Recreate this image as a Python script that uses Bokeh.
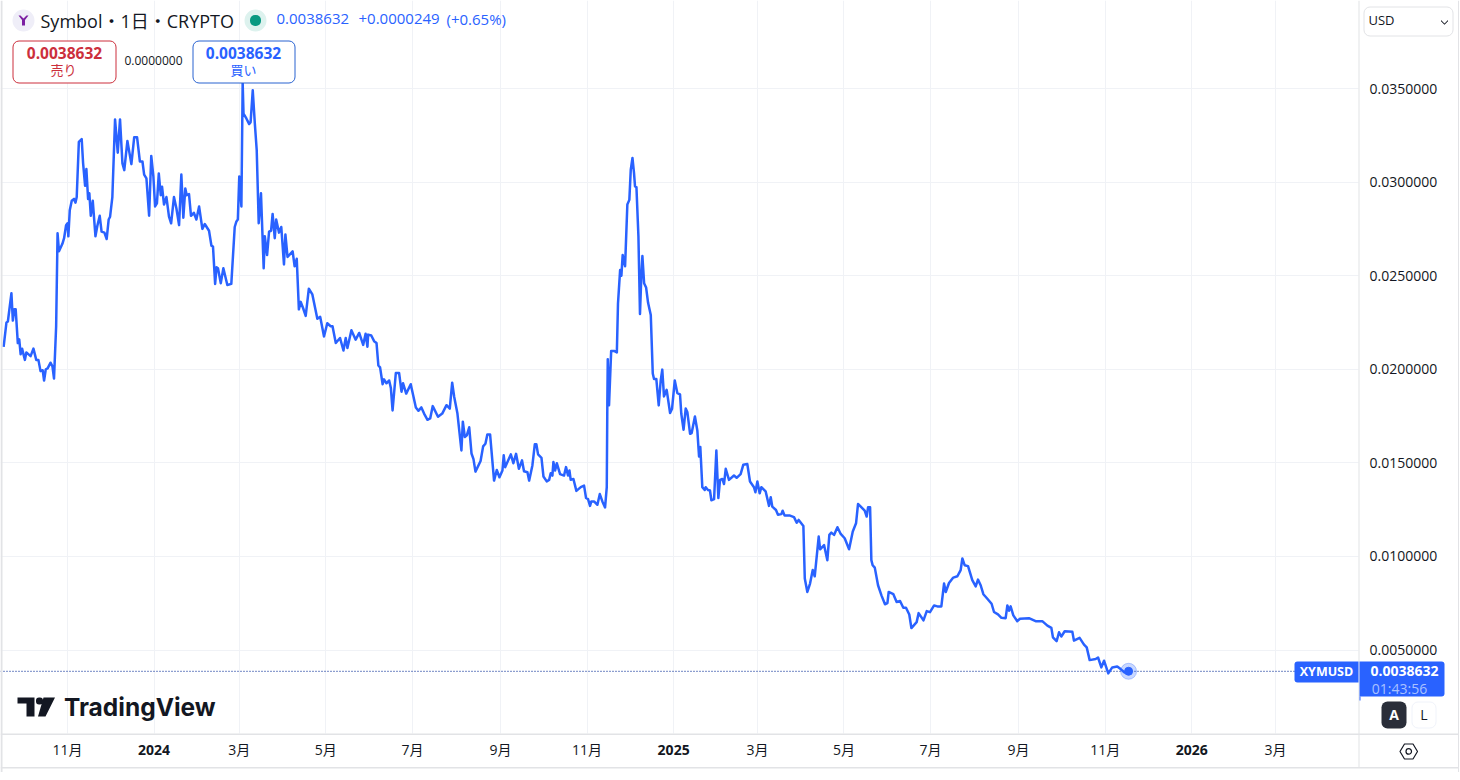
from datetime import date, timedelta
from bokeh.embed import file_html
from bokeh.resources import INLINE
from bokeh.plotting import figure
from bokeh.models import (Label, BoxAnnotation, PolyAnnotation, FixedTicker, Range1d,
                          LinearAxis, DatetimeAxis, Span, Grid, NumeralTickFormatter)

START_DATE = date(2023, 9, 15)

# Day number after START_DATE
day_numbers = [
 2,4,5,7.5,8.5,9.5,10.5,12,13,14,15,17,18,21,23,25,26.5,28,29.5,30.5,31.7,33,35,36.4,37.5,39,40,41,43.4,44.6,46,47,47.6,48.6,50,51.6,52.6,53.5,55,57,58,59.4,60.3,61.5,62.4,63.4,64.8,66.7,68,69.7,71,73,74.6,76,77,78.6,80.5,82.4,84,85.7,87,89.2,92,94,96,98,99.8,101,102.6,104.5,106,107.5,108.7,110,111.3,112.7,113.6,115,116.7,118.5,120,122,123.7,125.6,127.2,128.6,130,131,132.6,134,136,137.8,139.7,142,143.7,146.7,148.4,149.5,151,152,153,155,156.8,159.6,162.4,164.8,166,167,168,169.5,170.4,171,173,175,176,177.5,179,180.3,181.7,183.3,185.2,186,187.6,189,190.4,191.5,193,194,196,197.6,199.5,200.5,202,205.6,207,208.5,210,211.3,213,214.8,217,219.5,223,225,227.7,230,232.4,
 233.7,236,239,241.4,243,244.2,247,250,252.5,255.3,257,258.3,258.8,261,263,264.7,266,267.2,269,270,271.7,273.6,274.8,276,278.3,280.6,282.3,283.4,285.6,288.8,292.4,294.2,296.3,298.2,300.6,302.5,304.3,308,311,314,316.3,318,319.4,321.7,324.5,325.5,326.9,328.3,330,331.6,333,334.4,338,339.8,341.4,342.8,344.7,347.5,349.4,351.3,353.4,354.3,355.3,359.3,361.1,363,365,367.2,368.6,371,372.2,374.5,376.2,377.3,378.5,380.9,382.3,384.6,386.3,387.4,388.6,389.3,390.5,391.7,394,396.8,398.2,399.6,400.6,401.5,403.4,405.5,408.6,410.9,412.3,413.7,415.1,416,417.9,420.3,422,423.8,425.7,426.9,427.3,427.6,428.5,
 430,432,434,434.8,436.3,437.2,438.1,439.8,441.4,442.8,443.8,445,446.1,446.8,447.8,449.2,450.3,451.3,452,453.2,454.6,456,457.9,459.3,460.2,461.8,463.5,464.9,466,467.2,469.1,471.5,472.9,474.8,476.6,478.5,479.4,481,482.5,483.7,485.6,486.7,489,490.7,491.9,492.8,494.2,495.9,496.6,498.2,499.6,500.6,502.5,504.1,505.5,506.7,508.3,509.5,510.7,513,516.5,518.4,521.2,523.1,525.9,527.8,530.6,531.6,533,534.6,535.8,538.8,541.2,542.4,543.5,546.1,547.5,549.9,550.8,552.2,556,
 558.8,560.7,562.1,565.4,566.4,568.2,570.1,572,573.4,576.2,577.2,580,582.3,583.7,585.1,587,589.4,591.7,594.5,597.6,600.2,602.5,603.9,605.3,608.6,610,611,612.4,613.3,614.2,615.7,618,620.4,622.9,624.6,625.5,628.8,631.1,633.5,635.8,637.7,640,641.5,645.2,646.6,650,652.3,654.6,657.5,659.8,662.6,664.5,665.7,668,671,673.9,676.2,677.4,679,681.4,684.4,686.8,688.4,690.3,692.2,695,698,699.7,702.5,704.9,707.9,709.1,710.3,711.4,713.3,716.1,718,724.3,729,733.7,737.3,740.1,741.2,743.8,745.5,747.1,749.5,754.9,756,760,763.1,765,767.1,771.3,773,775.3,777.2,780.2,783,786.5,788.9,791.7,794.5]

# Price in units of 0.0001 USD
price_e4 = [
 212,225,225.5,240.6,226,232,232,214,216,208,211,205,209,207,211,205,205,199,199.5,194,200,200.5,203.5,201.5,195,223,272.6,263,267,270,277,278,271,285,290,291,289,292,321.5,323,310,298,307,291,294,282,290,271,276.5,282,273.5,273,269.6,280,281.5,292,333.5,315.7,333.5,310,306.4,322,309.6,324,324,311,311,304,302,282,314,303,287,288.6,304.6,293,297.5,288,292,281.5,278,292,286,277,304,281,296.6,293,293.6,282,283.6,280,287,275,277.6,274,266,265.5,245.6,254.5,254,246,254,245,245.6,276,279,280,303,287,353,336.6,334,331,332,349,331,317,278,294,254,271,261,273.5,274,283,270,280,273,276,256,272,260,263,255,259,232,236,232.6,228.5,243,240,227,228,217.5,224.6,223,
 223,214,216.7,210,216.7,211.3,220.8,215.8,219.4,213,219,212,218.5,218,215,214,202,201,192,194.6,192.5,194,190,178,198,198,188,192.5,187,192,179.6,177.8,179.6,176.3,173,173.7,180.3,174.6,176.3,180.8,179,192.8,185.3,176.3,156.6,172,163.8,164.7,169,155,152,145.3,151,158.8,160.2,165.2,165.2,140.5,146.2,142.3,145.9,154,147.7,154.5,149.8,154.8,146.8,151.3,145.5,145,140.5,148.6,159.9,159.9,154.5,152.7,142.7,140.1,140.9,144.4,143.2,150.4,145.9,149.8,144,143.2,147.7,143.2,145.9,140.9,141.4,135,137,137.8,131.2,130.6,127,129.4,129.4,127.6,133.3,129.4,126.2,137,181.7,205.4,180.8,
 209.8,209.8,209,235,253,250,261,255,288,290.5,306.6,312.9,304.8,297.7,297.3,271,229.5,251,260.5,246,243.7,235.5,229,197.7,194.8,194.8,180.7,194,199.8,185.5,189,176.6,178.9,194,187.3,186.6,176.2,167.7,179,177,165.5,165.9,174.8,167.3,153.4,158.4,137,135.5,137,135.5,135.2,130,130.6,156.6,131.2,140.9,141.4,138.7,146.8,140.9,143.2,142,144,149,149.4,140,137,134.3,140,133.7,137,134.8,127,131.6,126.6,124.8,122.3,122.6,124.4,121.8,121.8,
 121,118,119.5,116.3,88.2,81,85.5,92.7,89.4,110.6,103.8,106,98,111.5,112.7,111.5,115.6,112,109.7,103.8,113.3,117.7,128,127,124.5,121.3,126.3,126.3,98,95.3,94,84.6,79.2,74.4,75,81,79.8,75.6,76.2,72.6,72.6,69,61.7,64.9,69.7,65.8,70.8,70.2,73.8,73.3,73.3,85.5,81,85.8,88.7,89.4,92.7,98.9,95.3,94.8,87.3,84,87.6,84.6,79.8,77.4,74.7,70.3,69,67.2,67,73.8,71,73.3,68.5,65.4,66.7,67,65.4,65.4,63,61.8,56.8,54.7,59.5,57.2,60,59.7,55,56.5,52.9,51.4,44.6,45.2,46,40.7,44.3,37.5,40.7,41.2,39.8,38,38.632]

price_ticks = [0.005, 0.010, 0.015, 0.020, 0.025, 0.030, 0.035]
month_ticks = ["2023-11-01","2024-01-01","2024-03-01","2024-05-01","2024-07-01","2024-09-01","2024-11-01",
               "2025-01-01","2025-03-01","2025-05-01","2025-07-01","2025-09-01","2025-11-01","2026-01-01","2026-03-01"]
month_labels = ["11月","2024","3月","5月","7月","9月","11月","2025","3月","5月","7月","9月","11月","2026","3月"]
last_price = 0.0038632

BLUE = "#2962FF"; INK = "#131722"; RED = "#CC2F3C"; GRID = "#F0F2F6"; EDGE = "#E2E3E6"
FONT = "'Open Sans','Noto Sans CJK JP',sans-serif"
JP = "'Noto Sans CJK JP',sans-serif"

def to_ms(d):
    return (d - date(1970, 1, 1)).total_seconds() * 1000

def parse(s):
    y, m, d = s.split("-")
    return date(int(y), int(m), int(d))

assert len(day_numbers) == len(price_e4), (len(day_numbers), len(price_e4))
xs = [to_ms(START_DATE) + n * 86400000 for n in day_numbers]
ys = [v / 10000 for v in price_e4]
tick_ms = [to_ms(parse(s)) for s in month_ticks]

W, H = 1459, 772
RIGHT_EDGE, BOTTOM_EDGE = 1358, 733
PX_PER_DAY = (1275 - 67) / 851.0
MS_PER_PX = 86400000 / PX_PER_DAY
x_left = tick_ms[0] - 67 * MS_PER_PX
x_right = tick_ms[0] + (W - 67) * MS_PER_PX
x_edge = tick_ms[0] + (RIGHT_EDGE - 67) * MS_PER_PX
UNIT_PER_PX = 0.03 / (649.5 - 88)
y_top = 0.035 + 88 * UNIT_PER_PX
y_bottom = 0.035 - (H - 88) * UNIT_PER_PX
y_edge = 0.035 - (BOTTOM_EDGE - 88) * UNIT_PER_PX

p = figure(width=W, height=H, output_backend="svg", toolbar_location=None,
           x_range=Range1d(x_left, x_right), y_range=Range1d(y_bottom, y_top),
           x_axis_type=None, y_axis_type=None, margin=0,
           min_border=0, outline_line_color=None,
           background_fill_color="white", border_fill_color="white")

# axes, fixed on the pane edges
yax = LinearAxis(ticker=FixedTicker(ticks=price_ticks), formatter=NumeralTickFormatter(format="0.0000000"),
                 fixed_location=x_edge, axis_line_color=None, major_tick_line_color=None,
                 minor_tick_line_color=None, major_tick_out=0, major_tick_in=0,
                 major_label_text_font=FONT, major_label_text_font_size="14px",
                 major_label_text_color=INK, major_label_standoff=11)
p.add_layout(yax, "right")
month_over = {t: ("" if l.startswith("20") else l) for t, l in zip(tick_ms, month_labels)}
xax = DatetimeAxis(ticker=FixedTicker(ticks=tick_ms), major_label_overrides=month_over,
                   fixed_location=y_edge, axis_line_color=None, major_tick_line_color=None,
                   minor_tick_line_color=None, major_tick_out=0, major_tick_in=0,
                   major_label_text_font=FONT, major_label_text_font_size="14px",
                   major_label_text_color=INK, major_label_standoff=6)
p.add_layout(xax, "below")
p.add_layout(Grid(dimension=0, ticker=FixedTicker(ticks=tick_ms), grid_line_color=GRID, grid_line_width=1))
p.add_layout(Grid(dimension=1, ticker=FixedTicker(ticks=price_ticks), grid_line_color=GRID, grid_line_width=1))
p.add_layout(Span(location=last_price, dimension="width", line_color="#1C3FA0", line_width=1.2,
                  line_dash=[1, 2], level="underlay"))

# series
p.line(xs, ys, line_color=BLUE, line_width=2.5, line_join="round")
p.scatter([xs[-1]], [ys[-1]], size=16, fill_color=BLUE, fill_alpha=0.25, line_color=BLUE, line_alpha=0.3)
p.scatter([xs[-1]], [ys[-1]], size=8, fill_color=BLUE, line_color=BLUE)

def box(l, r, t, b, fill="white", line=None, radius=0, lw=1, alpha=1.0, level="annotation"):
    p.add_layout(BoxAnnotation(left=l, right=r, top=t, bottom=b, left_units="canvas", right_units="canvas",
                               top_units="canvas", bottom_units="canvas", fill_color=fill, fill_alpha=alpha,
                               line_color=line, line_width=lw, line_alpha=1.0 if line else 0.0,
                               border_radius=radius, level=level))

def text(x, y, s, size=13, color=INK, align="left", style="normal", font=FONT, bl="middle"):
    p.add_layout(Label(x=x, y=y, x_units="canvas", y_units="canvas", text=s, text_font=font,
                       text_font_size=f"{size}px", text_color=color, text_align=align,
                       text_baseline=bl, text_font_style=style, level="annotation"))

def poly(px, py, fill=INK, line=None, lw=1.0, alpha=1.0):
    p.add_layout(PolyAnnotation(xs=px, ys=py, xs_units="canvas", ys_units="canvas", fill_color=fill,
                                fill_alpha=alpha, line_color=line, line_width=lw,
                                line_alpha=1.0 if line else 0.0, level="annotation"))

# white panes under the axis texts, hiding grid lines there
box(RIGHT_EDGE, W, 0, H, level="underlay")
box(0, W, BOTTOM_EDGE, H, level="underlay")

# frame lines
box(0, 2, 0, H, fill=EDGE)
box(1358, 1359, 0, 767, fill=EDGE)
box(0, 1459, 733, 734.5, fill=EDGE)
box(0, 1459, 766.5, 768, fill=EDGE)
box(1457.5, 1459, 0, H, fill=EDGE)

# year labels, bold
for t, l in zip(tick_ms, month_labels):
    if l.startswith("20"):
        p.add_layout(Label(x=t, y=749, x_units="data", y_units="canvas", text=l, text_font=FONT,
                           text_font_size="14px", text_font_style="bold", text_color=INK,
                           text_align="center", text_baseline="middle", level="annotation"))

# header
box(12, 34, 9, 31, fill="#EFEEF8", radius=11)
poly([18, 20, 23, 26, 28, 24.5, 24.5, 21.5, 21.5], [15, 15, 18, 15, 15, 19.5, 25, 25, 19.5], fill="#7B1FA2")
text(40, 20, "Symbol・1日・CRYPTO", size=18)
box(244, 266, 9, 31, fill="#DDF2EE", radius=11)
box(249.5, 260.5, 14.5, 25.5, fill="#089981", radius=5)
text(276, 18.5, "0.0038632", size=15, color=BLUE)
text(358, 18.5, "+0.0000249", size=15, color=BLUE)
text(446, 18.5, "(+0.65%)", size=15, color=BLUE)

# buy / sell
box(12.5, 115.5, 40.5, 82.5, line=RED, radius=6)
text(64, 52, "0.0038632", size=15.5, color=RED, align="center", style="bold")
text(63, 69, "売り", size=13, color=RED, align="center", font=JP)
text(153, 59.5, "0.0000000", size=12, align="center")
box(192.5, 294.5, 40.5, 82.5, line="#2962D0", radius=6)
text(243, 52, "0.0038632", size=15.5, color=BLUE, align="center", style="bold")
text(243, 69, "買い", size=13, color=BLUE, align="center", font=JP)

# currency selector
box(1363.5, 1452.5, 6.5, 35.5, line=EDGE, radius=6)
text(1368, 19, "USD", size=13)
poly([1440.5, 1444, 1447.5, 1447.5, 1444, 1440.5], [19.5, 23, 19.5, 20.8, 24.3, 20.8], fill=INK)

# price tags
box(1294, 1358, 661, 682, fill=BLUE, radius=(3, 0, 0, 3))
text(1326, 670.5, "XYMUSD", size=12.5, color="white", align="center", style="bold")
box(1359, 1444, 661, 696, fill=BLUE, radius=(0, 3, 3, 0))
box(1359, 1360, 696, 700, fill=BLUE)
text(1404, 670.5, "0.0038632", size=14, color="white", align="center", style="bold")
text(1399, 688, "01:43:56", size=14, color="#A9C1FF", align="center")

# auto / log buttons
box(1381, 1406, 701, 728, fill="#2A2E39", radius=6)
text(1393.5, 713.5, "A", size=14, color="white", align="center", style="bold")
box(1411.5, 1435.5, 701.5, 727.5, line="#F0F3FA", radius=6)
text(1423.5, 713.5, "L", size=14, align="center")

# settings icon
poly([1399.5, 1404, 1412.5, 1417, 1412.5, 1404], [751, 743.5, 743.5, 751, 758.5, 758.5], fill="white", line=INK, lw=1.2)
box(1405.5, 1411, 748.2, 753.7, fill="white", line=INK, radius=3, lw=1.2)

# TradingView logo
poly([17, 34, 34, 26, 26, 17], [697, 697, 716, 716, 703, 703], fill=INK)
box(35.5, 42.5, 697, 704, fill=INK, radius=3)
poly([43, 54.5, 45, 37.5], [697, 697, 716, 716], fill=INK)
text(63.5, 706, "TradingView", size=24.5, style="bold", font="Inter, 'Open Sans', sans-serif")

open("out.html", "w").write(file_html(p, INLINE))
